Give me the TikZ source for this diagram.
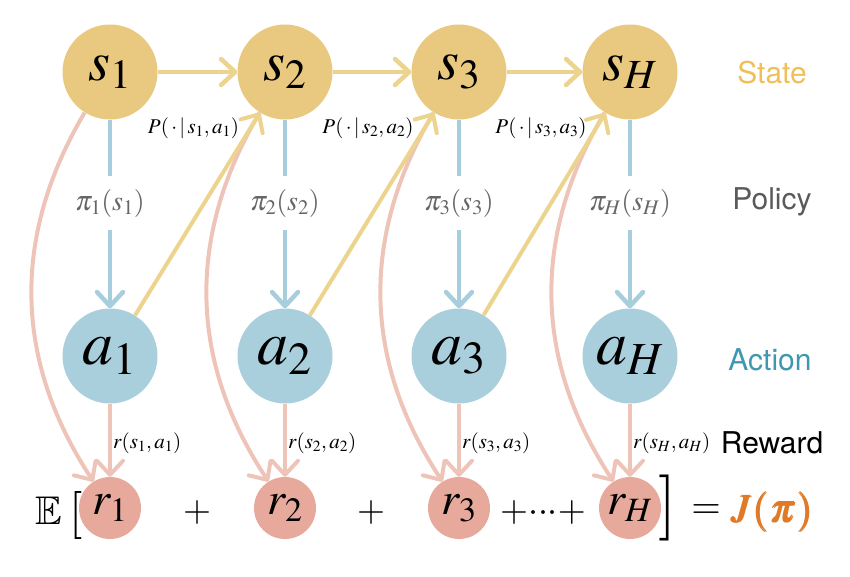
\documentclass[tikz,border=0pt]{standalone}
\usepackage{mathptmx}
\usepackage{amssymb}
\usepackage{bm}
\usepackage[no-math]{fontspec}
\newfontfamily\labelfont{TeX Gyre Heros}
\usetikzlibrary{arrows.meta}

\definecolor{stfill}{HTML}{E9C980}
\definecolor{stline}{HTML}{EDD48E}
\definecolor{acfill}{HTML}{A9CFDC}
\definecolor{acline}{HTML}{A6CEDC}
\definecolor{rwfill}{HTML}{E6A99C}
\definecolor{rwline}{HTML}{EEC4B9}
\definecolor{stlabel}{HTML}{F0BF58}
\definecolor{aclabel}{HTML}{3F97B0}
\definecolor{polabel}{HTML}{5A5A5A}
\definecolor{pigray}{HTML}{666666}
\definecolor{jorange}{HTML}{E07A26}

\begin{document}
\begin{tikzpicture}[x=1pt,y=-1pt,
  bignode/.style={circle, minimum size=95pt, inner sep=0pt},
  stnode/.style={bignode, fill=stfill, font=\fontsize{56}{60}\selectfont},
  acnode/.style={bignode, fill=acfill, font=\fontsize{62}{66}\selectfont},
  rwnode/.style={circle, minimum size=62pt, inner sep=0pt, fill=rwfill, font=\fontsize{46}{50}\selectfont},
  tipbarb/.style={-{Straight Barb[length=14pt,width=26pt,round]}},
  yconn/.style={tipbarb, draw=stline, line width=4.5pt},
  bline/.style={draw=acline, line width=4.5pt},
  bconn/.style={tipbarb, bline},
  rconn/.style={tipbarb, draw=rwline, line width=4pt},
  pilabel/.style={text=pigray, inner xsep=2pt, inner ysep=13pt, font=\fontsize{28}{30}\selectfont},
  plabel/.style={inner sep=0pt, font=\fontsize{21}{24}\selectfont},
  rlabel/.style={anchor=west, inner sep=1pt, font=\fontsize{21}{24}\selectfont},
  rowlabel/.style={inner sep=0pt, font=\labelfont\fontsize{30}{34}\selectfont},
  sumtext/.style={inner sep=0pt, font=\fontsize{36}{40}\selectfont},
]
\useasboundingbox (0,0) rectangle (850,576);

% states
\node[stnode] (s1) at (110,72) {$s_1$};
\node[stnode] (s2) at (285,72) {$s_2$};
\node[stnode] (s3) at (459,72) {$s_3$};
\node[stnode] (sH) at (630,72) {$s_H$};
% actions
\node[acnode] (a1) at (110,356) {$a_1$};
\node[acnode] (a2) at (285,356) {$a_2$};
\node[acnode] (a3) at (459,356) {$a_3$};
\node[acnode] (aH) at (630,356) {$a_H$};
% rewards
\node[rwnode] (r1) at (110,508) {$r_1$};
\node[rwnode] (r2) at (285,508) {$r_2$};
\node[rwnode] (r3) at (459,508) {$r_3$};
\node[rwnode] (rH) at (630,508) {$r_H$};

% pink curved arrows state -> reward
\draw[rconn] (s1) to[bend right=32] (r1);
\draw[rconn] (s2) to[bend right=32] (r2);
\draw[rconn] (s3) to[bend right=32] (r3);
\draw[rconn] (sH) to[bend right=32] (rH);

% action -> reward
\draw[rconn] (a1) -- node[rlabel, pos=0.54] {$r(s_1,a_1)$} (r1);
\draw[rconn] (a2) -- node[rlabel, pos=0.54] {$r(s_2,a_2)$} (r2);
\draw[rconn] (a3) -- node[rlabel, pos=0.54] {$r(s_3,a_3)$} (r3);
\draw[rconn] (aH) -- node[rlabel, pos=0.54] {$r(s_H,a_H)$} (rH);

% transitions
\draw[yconn] (s1) -- (s2);
\draw[yconn] (s2) -- (s3);
\draw[yconn] (s3) -- (sH);
\draw[yconn, line width=4pt] (a1) -- (s2);
\draw[yconn, line width=4pt] (a2) -- (s3);
\draw[yconn, line width=4pt] (a3) -- (sH);

\node[plabel] (p1) at (193.5,128) {$P(\,\cdot\,|\,s_1,a_1)$};
\node[plabel] (p2) at (368,128) {$P(\,\cdot\,|\,s_2,a_2)$};
\node[plabel] (p3) at (541,128) {$P(\,\cdot\,|\,s_3,a_3)$};

% policies
\node[pilabel] (pi1) at (110,203) {$\pi_1(s_1)$};
\node[pilabel] (pi2) at (285,203) {$\pi_2(s_2)$};
\node[pilabel] (pi3) at (459,203) {$\pi_3(s_3)$};
\node[pilabel] (piH) at (630,203) {$\pi_H(s_H)$};
\foreach \k in {1,2,3,H}{
  \draw[bline] (s\k) -- (pi\k.north);
  \draw[bconn] (pi\k.south) -- (a\k);
}

% row labels
\node[rowlabel, text=stlabel] (lstate) at (772,73) {State};
\node[rowlabel, text=polabel] (lpolicy) at (772,202) {Policy};
\node[rowlabel, text=aclabel] (laction) at (770,360) {Action};
\node[rowlabel, text=black] (lreward) at (772,443) {Reward};

% bottom sum
\node[inner sep=0pt, font=\fontsize{40}{44}\selectfont] (expE) at (48.5,511) {$\mathbb{E}$};
\node[inner sep=0pt, font=\fontsize{48}{52}\selectfont] (lbr) at (76,515) {$[$};
\node[sumtext] (plus1) at (197,512) {$+$};
\node[sumtext] (plus2) at (371,512) {$+$};
\node[sumtext] (dots) at (543,512) {${+}{\cdot}{\cdot}{\cdot}{+}$};
\node[inner sep=0pt, font=\fontsize{66}{70}\selectfont] (rbr) at (668,508) {$]$};
\node[inner sep=0pt, font=\fontsize{38}{42}\selectfont] (eq) at (706,512) {$=$};
\node[inner sep=0pt, text=jorange, font=\fontsize{40}{44}\selectfont] (Jpi) at (772,512) {$\bm{J(\pi)}$};
\end{tikzpicture}
\end{document}
